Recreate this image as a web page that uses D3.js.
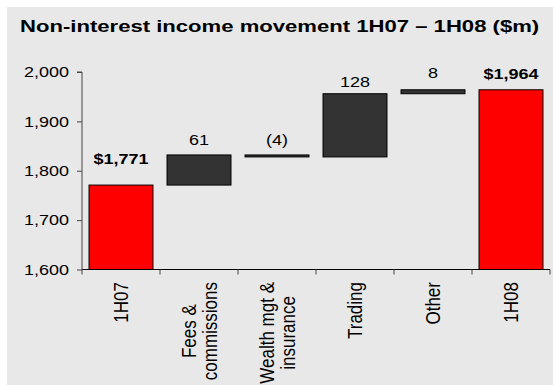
<!DOCTYPE html>
<html>
<head>
<meta charset="utf-8">
<script src="https://cdn.jsdelivr.net/npm/d3@7/dist/d3.min.js"></script>
<style>
  html, body { margin: 0; padding: 0; background: #ffffff; }
  svg { display: block; }
  text { font-family: "Liberation Sans", Arial, sans-serif; fill: #000; }
</style>
</head>
<body>
<script>
// Waterfall: non-interest income bridge from 1H07 to 1H08 ($m)
const categories = ["1H07", "Fees &\ncommissions", "Wealth mgt &\ninsurance", "Trading", "Other", "1H08"];
const changes    = [1771, 61, -4, 128, 8, 1964];
const kinds      = ["total", "delta", "delta", "delta", "delta", "total"];
const valueLabels = ["$1,771", "61", "(4)", "128", "8", "$1,964"];
const yTicks     = [1600, 1700, 1800, 1900, 2000];
const titleText  = "Non-interest income movement 1H07 \u2013 1H08 ($m)";

const W = 553, H = 385;
const sx = 1.2;                 // horizontal text stretch
const plot = { left: 82, right: 550, top: 72, bottom: 269.5 };
const labelLift = [21, 10, 10, 7, 12, 11];

// running base/top for each bar
let running = 0;
const bars = categories.map((c, i) => {
  let lo, hi;
  if (kinds[i] === "total") { lo = 1600; hi = changes[i]; running = changes[i]; }
  else {
    const start = running; running += changes[i];
    lo = Math.min(start, running); hi = Math.max(start, running);
  }
  return { cat: c, lo, hi, kind: kinds[i], label: valueLabels[i], i };
});

const svg = d3.select("body").append("svg").attr("width", W).attr("height", H);
svg.append("rect").attr("x", 7).attr("y", 7).attr("width", W - 7).attr("height", H - 7).attr("fill", "#e8e8e8");

const x = d3.scaleBand().domain(categories).range([plot.left, plot.right]).paddingInner(0.18).paddingOuter(0.09);
const y = d3.scaleLinear().domain([1600, 2000]).range([plot.bottom, plot.top]);

// title
svg.append("text")
  .attr("transform", `translate(20,32) scale(1.3,1)`)
  .attr("font-size", 17).attr("font-weight", "bold")
  .text(titleText);

// bars
svg.append("g").selectAll("rect").data(bars).join("rect")
  .attr("x", d => x(d.cat))
  .attr("width", x.bandwidth())
  .attr("y", d => y(d.hi))
  .attr("height", d => Math.max(1, y(d.lo) - y(d.hi)))
  .attr("fill", d => d.kind === "total" ? "#ff0000" : "#333333")
  .attr("stroke", "#000").attr("stroke-width", 1);

// value labels sit above each bar's top
svg.append("g").selectAll("text").data(bars).join("text")
  .attr("transform", d => `translate(${x(d.cat) + x.bandwidth() / 2},${y(d.hi) - labelLift[d.i]}) scale(${sx},1)`)
  .attr("text-anchor", "middle")
  .attr("font-size", 15)
  .attr("font-weight", d => d.kind === "total" ? "bold" : "normal")
  .text(d => d.label);

// y axis
const yAxis = svg.append("g").attr("transform", `translate(${plot.left},0)`)
  .call(d3.axisLeft(y).tickValues(yTicks).tickSize(5).tickFormat(() => ""));
yAxis.select(".domain").attr("stroke", "#444").attr("d", `M-5,${plot.top}H0V${plot.bottom}`);
yAxis.selectAll(".tick line").attr("stroke", "#444");
svg.append("g").selectAll("text").data(yTicks).join("text")
  .attr("transform", d => `translate(69,${y(d) + 5.3}) scale(${sx},1)`)
  .attr("text-anchor", "end").attr("font-size", 15)
  .text(d => d3.format(",")(d));

// x axis with ticks at band boundaries
const bounds = d3.range(categories.length + 1).map(k => plot.left + k * (plot.right - plot.left) / categories.length);
const xg = svg.append("g");
xg.append("line").attr("x1", plot.left).attr("x2", plot.right)
  .attr("y1", plot.bottom).attr("y2", plot.bottom).attr("stroke", "#000");
xg.selectAll("line.t").data(bounds).join("line").attr("class", "t")
  .attr("x1", d => d).attr("x2", d => d)
  .attr("y1", plot.bottom).attr("y2", plot.bottom + 5).attr("stroke", "#444");

// rotated category labels, lines centred on each other
const fs = 17, lineStep = 18, capH = 0.716 * fs, topEnd = 282;
categories.forEach((c, i) => {
  const lines = c.split("\n");
  const cx = x(c) + x.bandwidth() / 2;
  const g = svg.append("g");
  const t = g.append("text").attr("font-size", fs).attr("text-anchor", "middle");
  lines.forEach((ln, j) => {
    t.append("tspan").attr("x", 0)
      .attr("y", capH / 2 + (j - (lines.length - 1) / 2) * lineStep)
      .text(ln);
  });
  let L = 0;
  t.selectAll("tspan").each(function () { L = Math.max(L, this.getComputedTextLength()); });
  g.attr("transform", `translate(${cx},${topEnd + L / 2}) scale(${sx},1) rotate(-90)`);
});
</script>
</body>
</html>
